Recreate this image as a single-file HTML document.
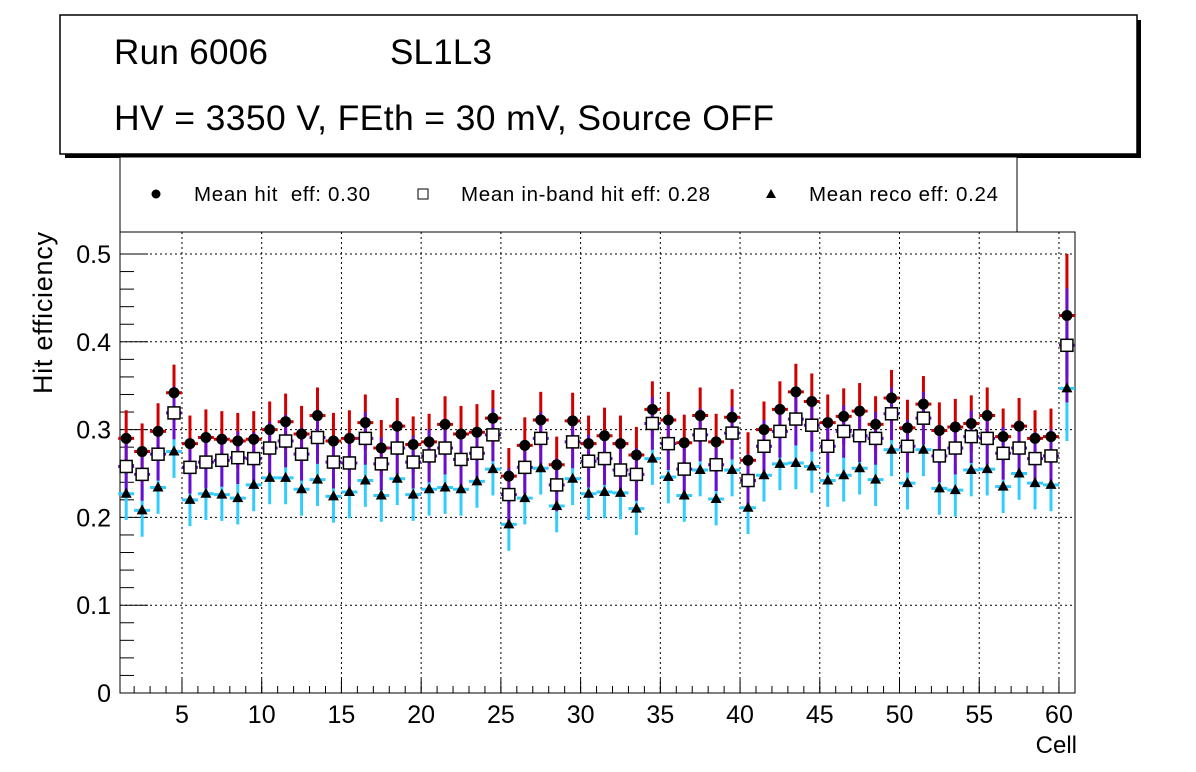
<!DOCTYPE html>
<html><head><meta charset="utf-8"><style>
body{margin:0;background:#fff;font-family:"Liberation Sans",sans-serif}
svg{display:block}
</style></head><body>
<svg id="c" width="1196" height="772" xmlns="http://www.w3.org/2000/svg">
<rect x="65" y="20" width="1076" height="138" fill="#000"/>
<rect x="60" y="15" width="1077" height="139" fill="#fff" stroke="#000" stroke-width="1.5"/>
<text x="114" y="64" font-size="35" textLength="154">Run 6006</text>
<text x="390" y="64" font-size="35" textLength="102">SL1L3</text>
<text x="114" y="130" font-size="35.5" textLength="660">HV = 3350 V, FEth = 30 mV, Source OFF</text>
<rect x="120" y="157" width="897" height="75" fill="#fff" stroke="#000" stroke-width="1"/>
<g font-size="20.5">
<circle cx="156" cy="194" r="4.5" fill="#000"/>
<text x="194" y="201" textLength="176">Mean hit&#160; eff: 0.30</text>
<rect x="418" y="189" width="10" height="10" fill="#fff" stroke="#000"/>
<text x="461" y="201" textLength="249">Mean in-band hit eff: 0.28</text>
<polygon points="771,189 776,198 766,198" fill="#000"/>
<text x="809" y="201" textLength="189">Mean reco eff: 0.24</text>
</g>
<rect x="120" y="232" width="955" height="461" fill="none" stroke="#000" stroke-width="1"/>
<g id="grid"></g><g id="axes"></g><g id="series"></g>
<text x="52" y="313" font-size="27" textLength="162" transform="rotate(-90 52 313)" text-anchor="middle">Hit efficiency</text>
<text x="1077" y="753" font-size="24" text-anchor="end">Cell</text>
</svg>
<script>
const hit=[0.290,0.275,0.298,0.342,0.284,0.291,0.289,0.287,0.289,0.300,0.309,0.295,0.316,0.287,0.290,0.308,0.279,0.304,0.283,0.286,0.306,0.295,0.297,0.313,0.247,0.282,0.311,0.260,0.310,0.284,0.293,0.284,0.271,0.323,0.311,0.285,0.316,0.286,0.314,0.265,0.300,0.323,0.343,0.332,0.308,0.315,0.321,0.306,0.336,0.302,0.329,0.299,0.303,0.307,0.316,0.292,0.304,0.290,0.292,0.430];
const inband=[0.258,0.249,0.272,0.319,0.257,0.263,0.265,0.268,0.267,0.279,0.287,0.272,0.291,0.263,0.262,0.290,0.261,0.279,0.263,0.270,0.279,0.266,0.273,0.294,0.226,0.257,0.290,0.237,0.286,0.264,0.267,0.254,0.249,0.307,0.284,0.255,0.294,0.260,0.296,0.242,0.281,0.298,0.312,0.305,0.281,0.298,0.293,0.290,0.318,0.281,0.313,0.270,0.279,0.292,0.290,0.273,0.279,0.267,0.270,0.396];
const reco=[0.227,0.208,0.234,0.275,0.220,0.227,0.226,0.222,0.237,0.245,0.245,0.232,0.243,0.224,0.229,0.242,0.225,0.244,0.226,0.232,0.234,0.232,0.241,0.255,0.192,0.222,0.256,0.213,0.244,0.227,0.229,0.228,0.210,0.267,0.246,0.225,0.254,0.221,0.254,0.211,0.248,0.261,0.262,0.258,0.242,0.248,0.256,0.243,0.277,0.239,0.277,0.233,0.231,0.254,0.255,0.235,0.250,0.239,0.237,0.347];
const errHit=0.032, errIn=0.030, errReco=0.030, errLast=[0.070,0.065,0.060];
const yTicks=[0,0.1,0.2,0.3,0.4,0.5];
const xTicks=[5,10,15,20,25,30,35,40,45,50,55,60];
const NS='http://www.w3.org/2000/svg';
const X=v=>118.2+(v-1)*15.945, Y=v=>693-v*878;
function mk(t,a,p){const e=document.createElementNS(NS,t);for(const k in a)e.setAttribute(k,a[k]);p.appendChild(e);return e;}
const G=document.getElementById('grid'),A=document.getElementById('axes'),S=document.getElementById('series');
yTicks.forEach(v=>{
 if(v>0){const l=mk('line',{x1:120,x2:1075,y1:Y(v),y2:Y(v),stroke:'#000','stroke-dasharray':'2,3'},G);
 
 }
 const t=mk('line',{x1:120,x2:148,y1:Y(v),y2:Y(v),stroke:'#000'},A);
 
 
 const tx=mk('text',{x:111,y:Y(v)+9,'font-size':25,'text-anchor':'end'},A);tx.textContent=v===0?'0':v.toFixed(1);
 
 
});
for(let v=0.02;v<0.52;v+=0.02){if(Math.abs(v*10-Math.round(v*10))<1e-6)continue;mk('line',{x1:120,x2:134,y1:Y(v),y2:Y(v),stroke:'#000'},A);}
for(let c=2;c<=60;c++){mk('line',{x1:X(c),x2:X(c),y1:693,y2:686,stroke:'#000'},A);}
xTicks.forEach(v=>{
 const l=mk('line',{x1:X(v),x2:X(v),y1:232,y2:693,stroke:'#000','stroke-dasharray':'2,3'},G);
 
 
 const t=mk('line',{x1:X(v),x2:X(v),y1:693,y2:679,stroke:'#000'},A);
 
 
 const tx=mk('text',{x:X(v),y:723,'font-size':25,'text-anchor':'middle'},A);tx.textContent=v;
 
 
});
const sets=[[reco,errReco,'#33ccff','reco',2],[hit,errHit,'#d00000','hit',0],[inband,errIn,'#6a0dcc','inband',1]];
sets.forEach(([d,e,col,nm,k])=>{d.forEach((v,i)=>{
 const c=i+1.5,er=i===59?errLast[k]:e;
 const g=mk('g',{},S);
 
 
 mk('line',{x1:X(c),x2:X(c),y1:Y(v-er),y2:Y(v+er),stroke:col,'stroke-width':3},g);
 mk('line',{x1:X(c-0.5),x2:X(c+0.5),y1:Y(v),y2:Y(v),stroke:col,'stroke-width':3},g);
});});
[[hit,'hit'],[inband,'inband'],[reco,'reco']].forEach(([d,nm])=>{d.forEach((v,i)=>{
 const x=X(i+1.5),y=Y(v);let m;
 if(nm==='hit')m=mk('circle',{cx:x,cy:y,r:5.5,fill:'#000'},S);
 else if(nm==='inband')m=mk('rect',{x:x-6,y:y-6,width:12,height:12,fill:'#fff',stroke:'#000','stroke-width':1.5},S);
 else m=mk('polygon',{points:`${x},${y-6} ${x+5.5},${y+4} ${x-5.5},${y+4}`,fill:'#000'},S);
 
 
});});
</script>
</body></html>
